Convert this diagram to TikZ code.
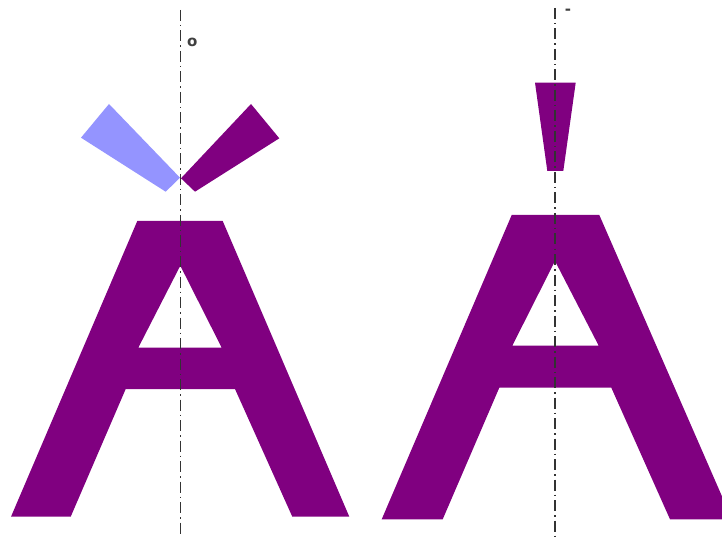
\documentclass[tikz,border=0pt]{standalone}
\usepackage{fontspec}
\setmainfont{DejaVu Sans}
\definecolor{glyph}{HTML}{800080}
\definecolor{ghost}{HTML}{9494FF}
\tikzset{
  glyphfill/.style={fill=glyph, draw=none},
  ghostfill/.style={fill=ghost, draw=none},
  axisline/.style={draw=black!80, line width=1.3pt, dash pattern=on 11pt off 4pt on 1.5pt off 4pt},
  lbl/.style={font=\fontsize{15}{15}\selectfont\bfseries, inner sep=0pt, text=black!75}
}
\begin{document}
\begin{tikzpicture}[x=1pt, y=-1pt]
\useasboundingbox (0,0) rectangle (722,537);
\clip (0,0) rectangle (722,537);
% left A
\path[glyphfill, even odd rule]
  (137.3,221) -- (222.7,221) -- (349.3,516.7) -- (292.3,516.7) -- (235,389) -- (125.7,389) -- (70.7,516.7) -- (11,516.7) -- cycle
  (180.3,265.7) -- (221.7,347.7) -- (138.3,347.7) -- cycle;
% left accents
\path[ghostfill] (109,104) -- (180,177.7) -- (165.7,191.7) -- (81,137.7) -- cycle;
\path[glyphfill] (251,104) -- (279.3,138.3) -- (195,191.7) -- (181,178.3) -- cycle;
% right A
\path[glyphfill, even odd rule]
  (511.7,215) -- (599.3,215) -- (732,519.3) -- (670,519.3) -- (611.3,387.7) -- (499.3,387.7) -- (442.7,519.3) -- (381.7,519.3) -- cycle
  (555,261) -- (598.7,345.7) -- (512.3,345.7) -- cycle;
% right accent
\path[glyphfill] (535,82.7) -- (575.7,82.7) -- (563.3,171) -- (547.3,171) -- cycle;
% axes
\coordinate (lt) at (180.5,10);
\coordinate (lb) at (180.5,537);
\coordinate (rt) at (555,8);
\coordinate (rb) at (555,537);
\draw[axisline] (lt) -- (lb);
\draw[axisline] (rt) -- (rb);
% labels
\node[lbl] (olbl) at (192.3,42.3) {o};
\node[lbl] (dlbl) at (568,11.5) {-};
\end{tikzpicture}
\end{document}
